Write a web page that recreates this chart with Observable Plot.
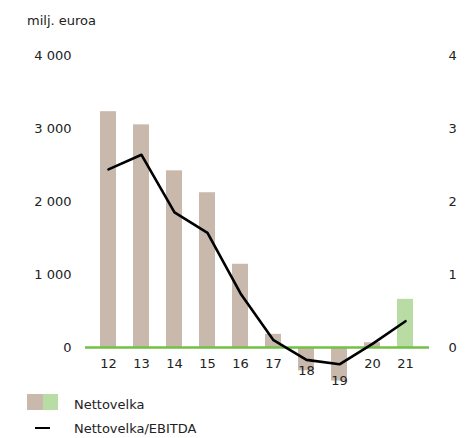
<!DOCTYPE html>
<html>
<head>
<meta charset="utf-8">
<script src="https://cdn.jsdelivr.net/npm/d3@7"></script>
<script src="https://cdn.jsdelivr.net/npm/@observablehq/plot@0.6"></script>
<style>
  html, body { margin: 0; padding: 0; background: #fff; }
  body { width: 470px; height: 438px; overflow: hidden; font-family: "DejaVu Sans", sans-serif; font-size: 13px; color: #222; }
  #title { position: relative; height: 28px; }
  #title span { position: absolute; left: 27px; top: 13px; line-height: 15px; white-space: nowrap; }
  #legend { position: relative; height: 48px; }
  .sw { position: absolute; top: 4px; width: 15.5px; height: 16px; }
  .lt { position: absolute; left: 74px; line-height: 16px; white-space: nowrap; }
  .dash { position: absolute; left: 35px; width: 15px; height: 2.5px; background: #000; top: 36.5px; }
  svg { display: block; }
</style>
</head>
<body>
<div id="title"><span>milj. euroa</span></div>
<div id="chart"></div>
<div id="legend">
  <div class="sw" style="left:27px;background:#c9b8ac"></div>
  <div class="sw" style="left:42.5px;background:#b9dca5"></div>
  <div class="lt" style="top:6.5px">Nettovelka</div>
  <div class="dash"></div>
  <div class="lt" style="top:30.5px">Nettovelka/EBITDA</div>
</div>
<script>
const years = ["12", "13", "14", "15", "16", "17", "18", "19", "20", "21"];
const netDebt = [3230, 3050, 2420, 2120, 1140, 180, -320, -460, 65, 660];
const netDebtToEbitda = [2.44, 2.64, 1.85, 1.57, 0.74, 0.10, -0.17, -0.23, 0.05, 0.36];
const barGroup = ["A", "A", "A", "A", "A", "A", "A", "A", "A", "B"];
const leftTicks = [0, 1000, 2000, 3000, 4000];
const rightTicks = [0, 1, 2, 3, 4];

const ratioUnit = 1000; // 1 on the right axis equals 1000 on the left axis

const data = years.map((year, i) => ({
  year,
  debt: netDebt[i],
  ratio: netDebtToEbitda[i],
  group: barGroup[i]
}));

const fmt = d => d3.format(",")(d).replace(/,/g, " ");

const chart = Plot.plot({
  width: 470,
  height: 362,
  marginTop: 27,
  marginBottom: 6.5,
  marginLeft: 85,
  marginRight: 41,
  style: { fontFamily: "DejaVu Sans, sans-serif", fontSize: "13px", color: "#222", background: "#fff" },
  x: { domain: years, paddingInner: 0.52, paddingOuter: 0.4, insetRight: 2, axis: null },
  y: { domain: [-500, 4000], label: null },
  color: { domain: ["A", "B"], range: ["#c9b8ac", "#b9dca5"] },
  marks: [
    Plot.barY(data, { x: "year", y: "debt", fill: "group" }),
    Plot.ruleY([0], { stroke: "#72c045", strokeWidth: 2.5 }),
    Plot.line(data, { x: "year", y: d => d.ratio * ratioUnit, stroke: "#000", strokeWidth: 2.6 }),
    Plot.text(data.filter(d => d.debt >= 0), { x: "year", y: () => 0, dy: 16, text: "year", fill: "#222" }),
    Plot.text(data.filter(d => d.debt < 0), { x: "year", y: "debt", dy: 0, text: "year", fill: "#222" }),
    Plot.axisY({ anchor: "left", ticks: leftTicks, tickFormat: fmt, tickSize: 0, tickPadding: 14, label: null }),
    Plot.axisY({ anchor: "right", ticks: rightTicks.map(d => d * ratioUnit), tickFormat: d => String(d / ratioUnit), tickSize: 0, tickPadding: 19, label: null })
  ]
});
document.getElementById("chart").appendChild(chart);
</script>
</body>
</html>
